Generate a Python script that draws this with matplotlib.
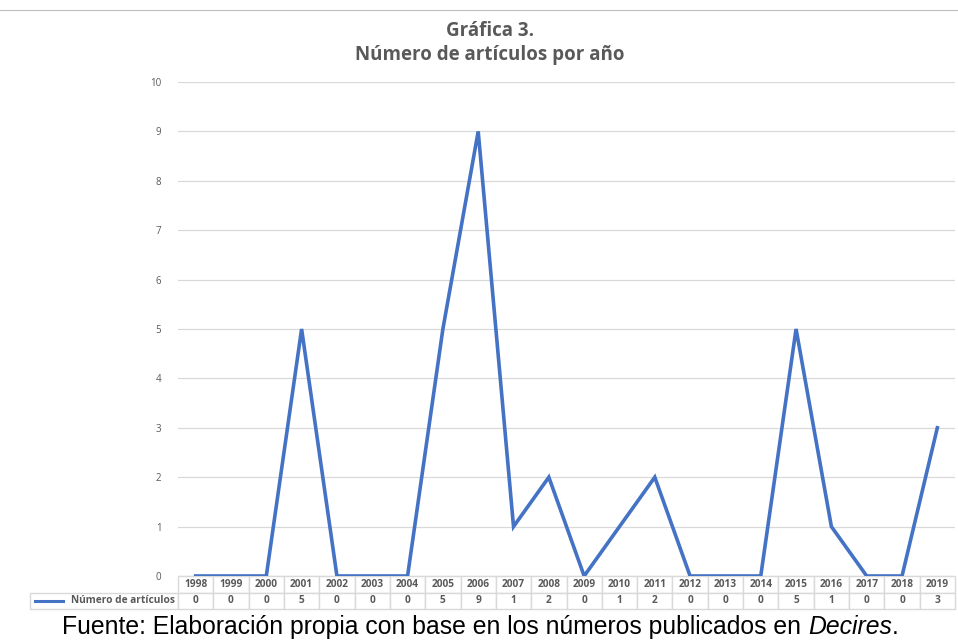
import matplotlib
matplotlib.use("Agg")
import matplotlib.pyplot as plt
from matplotlib.table import Table
from matplotlib.lines import Line2D

years = ["1998", "1999", "2000", "2001", "2002", "2003", "2004", "2005", "2006", "2007", "2008",
         "2009", "2010", "2011", "2012", "2013", "2014", "2015", "2016", "2017", "2018", "2019"]
articles = [0, 0, 0, 5, 0, 0, 0, 5, 9, 1, 2, 0, 1, 2, 0, 0, 0, 5, 1, 0, 0, 3]
series_label = "Número de artículos"
yticks = list(range(0, 11))

title = "Gráfica 3.\nNúmero de artículos por año"
source_plain = "Fuente: Elaboración propia con base en los números publicados en "
source_italic = "Decires"

BLUE = "#4472C4"
GRAY = "#595959"
GRID = "#d9d9d9"

W, H = 958, 640
fig = plt.figure(figsize=(W / 100, H / 100), dpi=100)
ax = fig.add_axes([178 / W, (H - 576) / H, (955 - 178) / W, (576 - 82) / H])

x = list(range(len(years)))
ax.plot(x, articles, color=BLUE, lw=2.6, solid_joinstyle="miter", zorder=3)
ax.set_xlim(-0.5, len(years) - 0.5)
ax.set_ylim(0, 10)
ax.set_yticks(yticks)
ax.set_yticklabels([str(v) for v in yticks], fontsize=7, color=GRAY, family="Open Sans")
ax.tick_params(axis="y", length=0, pad=12)
ax.set_xticks([])
ax.grid(axis="y", color=GRID, lw=0.9)
ax.set_axisbelow(True)
for s in ax.spines.values():
    s.set_visible(False)

# Data table
ax_h_px = 576 - 82
ax_w_px = 955 - 178
row_h = 16.5 / ax_h_px
lab_w = (178 - 30) / ax_w_px
tbl = Table(ax, bbox=[0, -2 * row_h, 1, 2 * row_h])
cw = 1.0 / len(years)


def style(cell):
    t = cell.get_text()
    t.set_fontsize(7.3)
    t.set_color(GRAY)
    t.set_fontweight("bold")
    t.set_family("Open Sans")


for j, yr in enumerate(years):
    style(tbl.add_cell(0, j, width=cw, height=row_h, text=yr, loc="center", edgecolor=GRID))
    style(tbl.add_cell(1, j, width=cw, height=row_h, text=str(articles[j]), loc="center", edgecolor=GRID))
lc = tbl.add_cell(1, -1, width=lab_w, height=row_h, text=series_label, loc="right", edgecolor=GRID)
lc.PAD = 0.02
style(lc)
tbl.auto_set_font_size(False)
tbl.set_clip_on(False)
ax.add_table(tbl)

# legend key line in the row label cell
yk = -1.5 * row_h
ax.add_line(Line2D([(35 - 178) / ax_w_px, (63 - 178) / ax_w_px], [yk, yk], transform=ax.transAxes,
                   color=BLUE, lw=2.2, clip_on=False))

# Title
fig.text(490 / W, 1 - 43 / H, title, ha="center", va="center", fontsize=13.5, fontweight="bold",
         color=GRAY, family="Open Sans", linespacing=1.3)

# top border line
fig.add_artist(Line2D([0, 1], [1 - 10 / H, 1 - 10 / H], transform=fig.transFigure, color="#bfbfbf", lw=0.8))

# Source
FS = 17.8
t1 = fig.text(62 / W, 1 - 627 / H, source_plain, ha="left", va="center", fontsize=FS,
              family="Liberation Sans", color="black")
fig.canvas.draw()
bb = t1.get_window_extent(renderer=fig.canvas.get_renderer())
t2 = fig.text(bb.x1 / fig.bbox.width, 1 - 627 / H, source_italic, ha="left", va="center", fontsize=FS,
              family="Liberation Sans", style="italic", color="black")
fig.canvas.draw()
bb2 = t2.get_window_extent(renderer=fig.canvas.get_renderer())
fig.text(bb2.x1 / fig.bbox.width, 1 - 627 / H, ".", ha="left", va="center", fontsize=FS,
         family="Liberation Sans", color="black")

fig.savefig("out.png", dpi=100)
